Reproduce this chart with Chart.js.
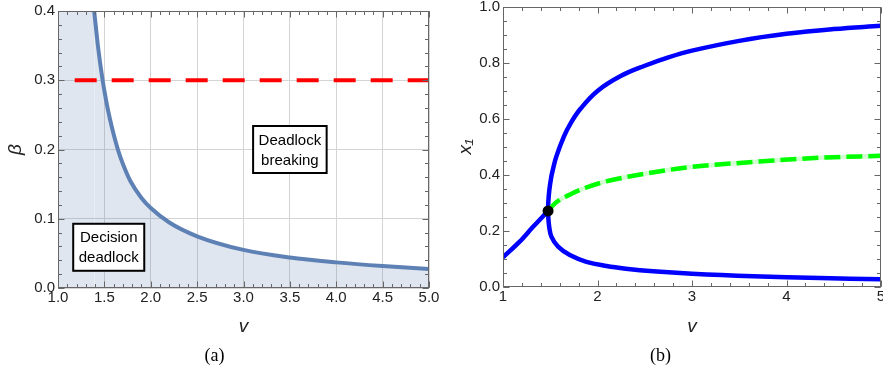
<!DOCTYPE html>
<html>
<head>
<meta charset="utf-8">
<script src="https://cdn.jsdelivr.net/npm/chart.js@4.4.1/dist/chart.umd.min.js"></script>
<style>
  html, body { margin: 0; padding: 0; background: #fff; overflow: hidden; }
  #wrap { position: relative; width: 883px; height: 373px; overflow: hidden; }
  #chartA { position: absolute; left: 0; top: 0; }
  #chartB { position: absolute; left: 440px; top: -3px; }
</style>
</head>
<body>
<div id="wrap">
  <canvas id="chartA" width="440" height="373"></canvas>
  <canvas id="chartB" width="450" height="376"></canvas>
</div>
<script>
// ---- panel (a): deadlock threshold beta(v) ----
const vCurve    = [1.39, 1.43, 1.48, 1.52, 1.56, 1.60, 1.65, 1.70, 1.78, 1.90, 2.00, 2.20, 2.50, 3.00, 3.50, 4.00, 4.50, 5.00];
const betaCurve = [0.400, 0.350, 0.301, 0.270, 0.244, 0.222, 0.198, 0.179, 0.1545, 0.130, 0.1155, 0.0946, 0.0747, 0.055, 0.044, 0.037, 0.0317, 0.0275];
// shaded strip left of the curve, where beta(v) is above the plot range
const vRegion    = [1.0, 1.39];
const betaRegion = [0.4, 0.4];
// dashed red line at beta = 0.3
const vThreshold    = [1.18, 5.0];
const betaThreshold = [0.3, 0.3];

const tickVA       = [1.0, 1.5, 2.0, 2.5, 3.0, 3.5, 4.0, 4.5, 5.0];
const tickVALabels = ['1.0', '1.5', '2.0', '2.5', '3.0', '3.5', '4.0', '4.5', '5.0'];
const tickBeta       = [0.0, 0.1, 0.2, 0.3, 0.4];
const tickBetaLabels = ['0.0', '0.1', '0.2', '0.3', '0.4'];

// ---- panel (b): equilibria x1(v) ----
// stable branch before the bifurcation
const vStableLow  = [1.0, 1.176, 1.318, 1.477];
const x1StableLow = [0.105, 0.161, 0.214, 0.271];
// the two stable branches after the bifurcation, listed from the low end round to the high end
const vFork  = [5.0, 4.355, 3.648, 3.0, 2.589, 2.3, 2.095, 1.883, 1.707, 1.583, 1.512, 1.489, 1.480, 1.477,
                1.479, 1.490, 1.511, 1.527, 1.563, 1.643, 1.717, 1.820, 2.0, 2.25, 2.5, 2.75, 3.0, 3.5, 4.0, 4.5, 5.0];
const x1Fork = [0.0268, 0.031, 0.0375, 0.0465, 0.0552, 0.0645, 0.074, 0.089, 0.113, 0.143, 0.179, 0.214, 0.245, 0.271,
                0.300, 0.345, 0.393, 0.417, 0.464, 0.536, 0.585, 0.636, 0.700, 0.754, 0.790, 0.820, 0.844, 0.879, 0.904, 0.921, 0.933];
// unstable branch
const vUnstable  = [1.477, 1.55, 1.70, 1.86, 2.04, 2.32, 2.943, 3.648, 4.355, 5.0];
const x1Unstable = [0.271, 0.298, 0.328, 0.352, 0.372, 0.393, 0.426, 0.446, 0.461, 0.468];
// bifurcation point
const vBif  = [1.477];
const x1Bif = [0.271];

const tickVB       = [1, 2, 3, 4, 5];
const tickVBLabels = ['1', '2', '3', '4', '5'];
const tickX1       = [0.0, 0.2, 0.4, 0.6, 0.8, 1.0];
const tickX1Labels = ['0.0', '0.2', '0.4', '0.6', '0.8', '1.0'];

const SANS = '"Liberation Sans", Arial, sans-serif';
const SERIF = '"Liberation Serif", "Times New Roman", serif';

function pts(xs, ys) {
    return xs.map((x, i) => ({ x: x, y: ys[i] }));
}

// Mathematica-style frame with inward ticks on all four sides
const framePlugin = {
    id: 'frame',
    afterDatasetsDraw(chart, args, opts) {
        const ctx = chart.ctx;
        const a = chart.chartArea;
        const sx = chart.scales.x, sy = chart.scales.y;
        const L = Math.round(a.left) + 0.5, R = Math.round(a.right) - 0.5;
        const T = Math.round(a.top) + 0.5, B = Math.round(a.bottom) - 0.5;
        ctx.save();
        ctx.strokeStyle = opts.color;
        ctx.lineWidth = 1;
        ctx.beginPath();
        const marks = (scale, step, len, horiz) => {
            const n = Math.round((scale.max - scale.min) / step);
            for (let i = 0; i <= n; i++) {
                const p = Math.round(scale.getPixelForValue(scale.min + i * step)) + 0.5;
                if (horiz) {
                    ctx.moveTo(p, B); ctx.lineTo(p, B - len);
                    ctx.moveTo(p, T); ctx.lineTo(p, T + len);
                } else {
                    ctx.moveTo(L, p); ctx.lineTo(L + len, p);
                    ctx.moveTo(R, p); ctx.lineTo(R - len, p);
                }
            }
        };
        marks(sx, opts.minorX, 3.5, true);
        marks(sx, opts.majorX, 6, true);
        marks(sy, opts.minorY, 3.5, false);
        marks(sy, opts.majorY, 6, false);
        ctx.stroke();
        ctx.strokeRect(L, T, R - L, B - T);
        ctx.restore();
    }
};

// boxed region labels
const boxPlugin = {
    id: 'boxes',
    afterDatasetsDraw(chart, args, opts) {
        const items = opts.items || [];
        const ctx = chart.ctx;
        ctx.save();
        ctx.font = '15px ' + SANS;
        items.forEach(item => {
            const cx = chart.scales.x.getPixelForValue(item.x);
            const cy = chart.scales.y.getPixelForValue(item.y);
            const w = Math.max(...item.lines.map(l => ctx.measureText(l).width)) + 11;
            const h = item.lines.length * 20 + 7;
            ctx.fillStyle = '#fff';
            ctx.fillRect(cx - w / 2, cy - h / 2, w, h);
            ctx.strokeStyle = '#000';
            ctx.lineWidth = 2;
            ctx.strokeRect(cx - w / 2, cy - h / 2, w, h);
            ctx.fillStyle = '#000';
            ctx.textAlign = 'center';
            ctx.textBaseline = 'middle';
            item.lines.forEach((l, i) => {
                ctx.fillText(l, cx, cy - (item.lines.length - 1) * 10 + i * 20 + 1);
            });
        });
        ctx.restore();
    }
};

function fixX(height, ticks) {
    return {
        afterBuildTicks: s => { s.ticks = ticks.map(v => ({ value: v })); },
        afterFit: s => { s.height = height; s.paddingLeft = 0; s.paddingRight = 0; }
    };
}
function fixY(width, ticks) {
    return {
        afterBuildTicks: s => { s.ticks = ticks.map(v => ({ value: v })); },
        afterFit: s => { s.width = width; s.paddingTop = 0; s.paddingBottom = 0; }
    };
}

const tickFont = { family: SANS, size: 15 };
const titleFont = { family: SANS, size: 19, style: 'italic' };
const fillColor = 'rgba(94, 129, 181, 0.2)';

// datasets are listed top-most first (Chart.js paints the first one last)
new Chart(document.getElementById('chartA'), {
    type: 'line',
    data: {
        datasets: [{
            data: pts(vThreshold, betaThreshold),
            borderColor: '#ff0000',
            borderWidth: 4,
            borderDash: [22, 15],
            pointRadius: 0,
            fill: false
        }, {
            data: pts(vCurve, betaCurve),
            borderColor: '#5e81b5',
            borderWidth: 4,
            backgroundColor: fillColor,
            fill: 'origin',
            pointRadius: 0,
            cubicInterpolationMode: 'monotone'
        }, {
            data: pts(vRegion, betaRegion),
            borderWidth: 0,
            borderColor: 'transparent',
            backgroundColor: fillColor,
            fill: 'origin',
            pointRadius: 0
        }]
    },
    options: {
        responsive: false,
        animation: false,
        layout: { padding: { left: 0, top: 11, right: 11, bottom: 0 } },
        plugins: {
            legend: { display: false },
            tooltip: { enabled: false },
            title: {
                display: true, position: 'bottom', text: '(a)', color: '#000',
                font: { family: SERIF, size: 18, weight: 'normal' },
                padding: { top: 0, bottom: 6 }
            },
            frame: { color: '#666', majorX: 0.5, minorX: 0.1, majorY: 0.1, minorY: 0.02 },
            boxes: {
                items: [
                    { x: 3.5, y: 0.2, lines: ['Deadlock', 'breaking'] },
                    { x: 1.547, y: 0.0588, lines: ['Decision', 'deadlock'] }
                ]
            }
        },
        scales: {
            x: Object.assign({
                type: 'linear', min: 1, max: 5,
                grid: { color: '#d4d4d4', drawTicks: false },
                border: { display: false },
                ticks: { font: tickFont, color: '#222', padding: 1, maxRotation: 0,
                         callback: (v, i) => tickVALabels[i] },
                title: { display: true, text: 'v', font: titleFont, color: '#222', padding: { top: 0, bottom: 7 } }
            }, fixX(57.4, tickVA)),
            y: Object.assign({
                type: 'linear', min: 0, max: 0.4,
                grid: { color: '#d4d4d4', drawTicks: false },
                border: { display: false },
                ticks: { font: tickFont, color: '#222', padding: 3,
                         callback: (v, i) => tickBetaLabels[i] },
                title: { display: true, text: 'β', font: titleFont, color: '#222', padding: { top: 4.6, bottom: 0 } }
            }, fixY(58, tickBeta))
        }
    },
    plugins: [framePlugin, boxPlugin]
});

const blueLine = {
    borderColor: '#0000ff', borderWidth: 4.5, pointRadius: 0, fill: false
};

new Chart(document.getElementById('chartB'), {
    type: 'line',
    data: {
        datasets: [
            { data: pts(vBif, x1Bif), showLine: false, pointRadius: 5.5,
              pointBackgroundColor: '#000', pointBorderColor: '#000', pointBorderWidth: 0 },
            { data: pts(vUnstable, x1Unstable), borderColor: '#00ff00', borderWidth: 4.5,
              borderDash: [16, 6], pointRadius: 0, fill: false, cubicInterpolationMode: 'monotone' },
            { data: pts(vUnstable, x1Unstable), borderColor: 'rgba(0, 255, 0, 0.18)', borderWidth: 4.5,
              pointRadius: 0, fill: false, cubicInterpolationMode: 'monotone' },
            Object.assign({ data: pts(vFork, x1Fork), tension: 0.4 }, blueLine),
            Object.assign({ data: pts(vStableLow, x1StableLow), cubicInterpolationMode: 'monotone' }, blueLine)
        ]
    },
    options: {
        responsive: false,
        animation: false,
        layout: { padding: { left: 0, top: 10, right: 9, bottom: 0 } },
        plugins: {
            legend: { display: false },
            tooltip: { enabled: false },
            title: {
                display: true, position: 'bottom', text: '(b)', color: '#000',
                font: { family: SERIF, size: 18, weight: 'normal' },
                padding: { top: 0, bottom: 6 }
            },
            frame: { color: '#666', majorX: 1, minorX: 0.2, majorY: 0.2, minorY: 0.05 }
        },
        scales: {
            x: Object.assign({
                type: 'linear', min: 1, max: 5,
                grid: { display: false, drawTicks: false },
                border: { display: false },
                ticks: { font: tickFont, color: '#222', padding: 1, maxRotation: 0,
                         callback: (v, i) => tickVBLabels[i] },
                title: { display: true, text: 'v', font: titleFont, color: '#222', padding: { top: 0, bottom: 7.3 } }
            }, fixX(58.7, tickVB)),
            y: Object.assign({
                type: 'linear', min: 0, max: 1,
                grid: { display: false, drawTicks: false },
                border: { display: false },
                ticks: { font: tickFont, color: '#222', padding: 3,
                         callback: (v, i) => tickX1Labels[i] },
                title: { display: true, text: 'x₁', font: titleFont, color: '#222', padding: { top: 14.6, bottom: 0 } }
            }, fixY(63, tickX1))
        }
    },
    plugins: [framePlugin]
});
</script>
</body>
</html>
